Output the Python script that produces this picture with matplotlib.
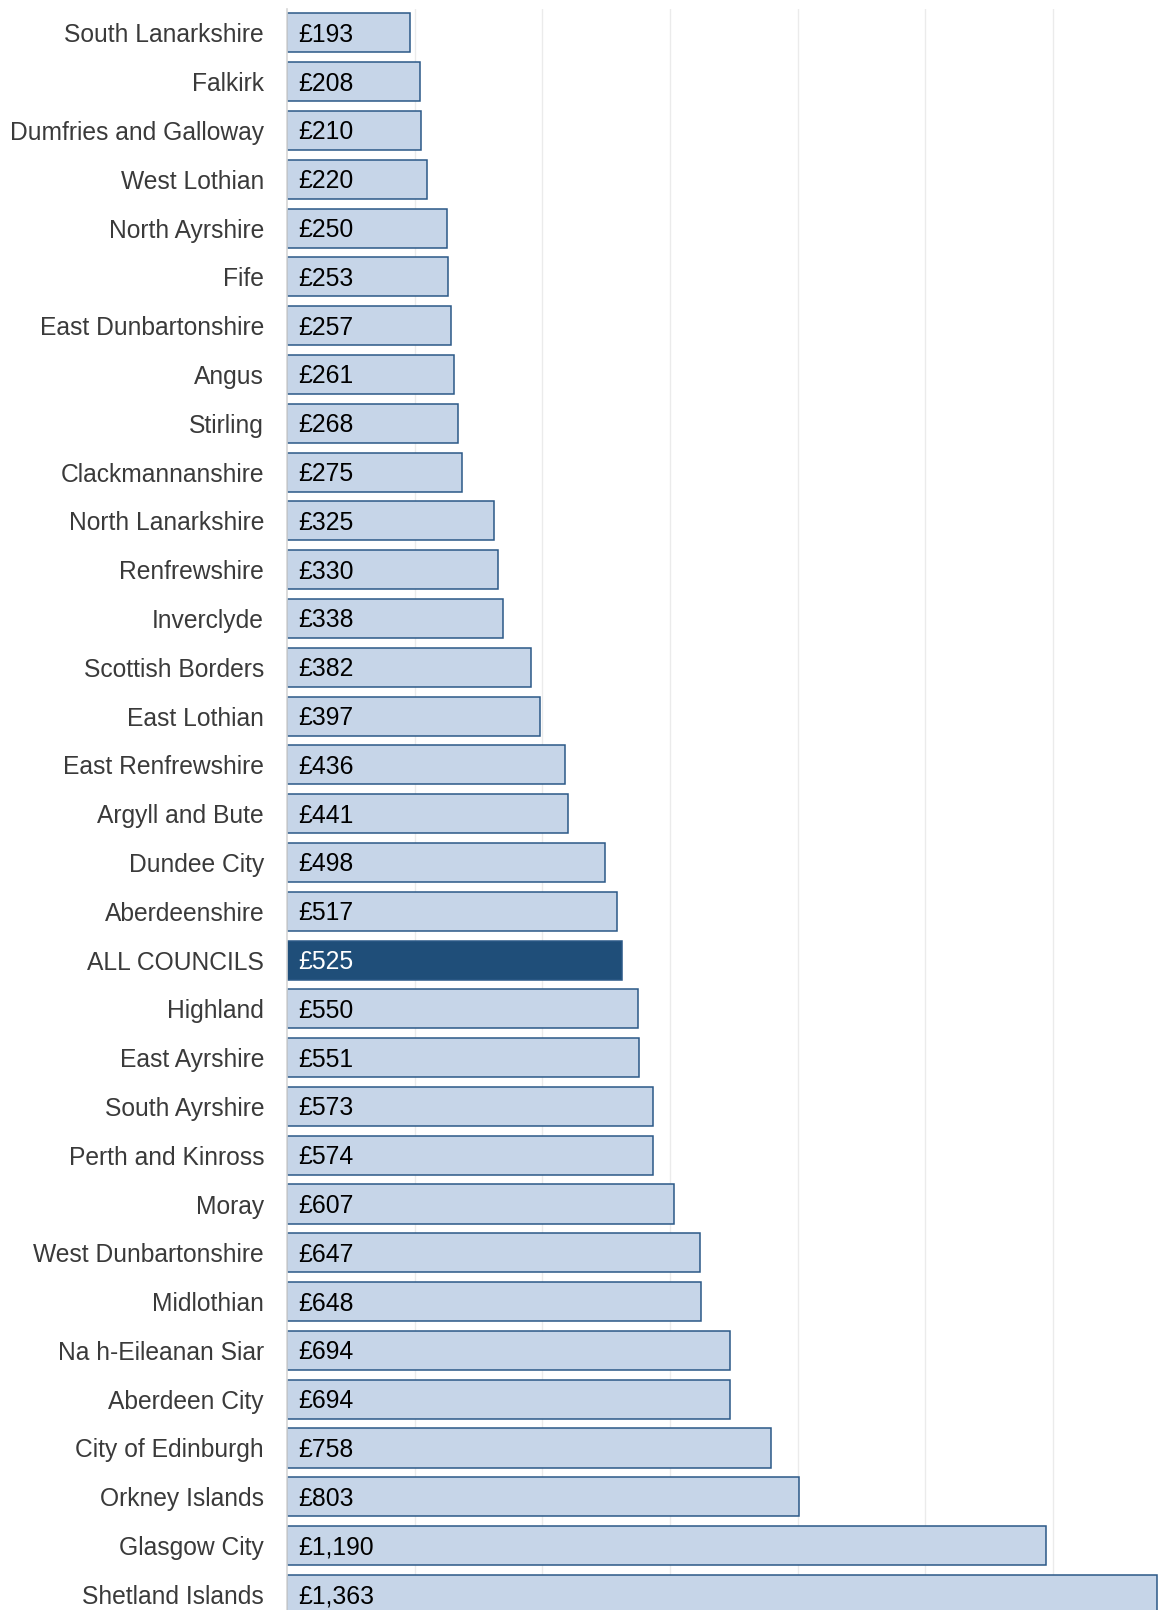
import matplotlib
matplotlib.use("Agg")
import matplotlib.pyplot as plt

councils = ["South Lanarkshire", "Falkirk", "Dumfries and Galloway", "West Lothian",
            "North Ayrshire", "Fife", "East Dunbartonshire", "Angus", "Stirling",
            "Clackmannanshire", "North Lanarkshire", "Renfrewshire", "Inverclyde",
            "Scottish Borders", "East Lothian", "East Renfrewshire", "Argyll and Bute",
            "Dundee City", "Aberdeenshire", "ALL COUNCILS", "Highland", "East Ayrshire",
            "South Ayrshire", "Perth and Kinross", "Moray", "West Dunbartonshire",
            "Midlothian", "Na h-Eileanan Siar", "Aberdeen City", "City of Edinburgh",
            "Orkney Islands", "Glasgow City", "Shetland Islands"]
values = [193, 208, 210, 220, 250, 253, 257, 261, 268, 275, 325, 330, 338, 382, 397,
          436, 441, 498, 517, 525, 550, 551, 573, 574, 607, 647, 648, 694, 694, 758,
          803, 1190, 1363]
highlight = "ALL COUNCILS"
grid_ticks = [200, 400, 600, 800, 1000, 1200]

plt.rcParams['font.family'] = ['Liberation Sans', 'DejaVu Sans']

fig = plt.figure(figsize=(11.74, 16.10), dpi=100)
ax = fig.add_axes([287/1174, 0, 1 - 287/1174, 1 - 9/1610])

light = '#c6d5e8'
dark = '#1f4e79'
edge = '#2b5987'
ypos = list(range(len(councils)))
colors = [dark if c == highlight else light for c in councils]
ax.barh(ypos, values, height=0.8, color=colors, edgecolor=edge, linewidth=1.1, zorder=2)

for y, v, c in zip(ypos, values, councils):
    ax.text(11/0.6383, y + 0.04, f"£{v:,}", va='center', ha='left', fontsize=17.8,
            color='white' if c == highlight else 'black', zorder=3)

ax.set_xlim(0, 1390)
ax.set_ylim(32.32, -0.49)
ax.set_xticks(grid_ticks)
ax.set_xticklabels([])
ax.tick_params(axis='x', length=0)
ax.grid(axis='x', color='#ebebeb', linewidth=1, zorder=0)
ax.set_axisbelow(True)
ax.set_yticks(ypos)
ax.set_yticklabels(councils, fontsize=17.7, color='#3a3a3a')
ax.tick_params(axis='y', length=0, pad=16.5)
for s in ['top', 'right', 'bottom']:
    ax.spines[s].set_visible(False)
ax.spines['left'].set_color('#d6d6d6')
ax.spines['left'].set_linewidth(1.2)

fig.savefig("out.png", dpi=100)
